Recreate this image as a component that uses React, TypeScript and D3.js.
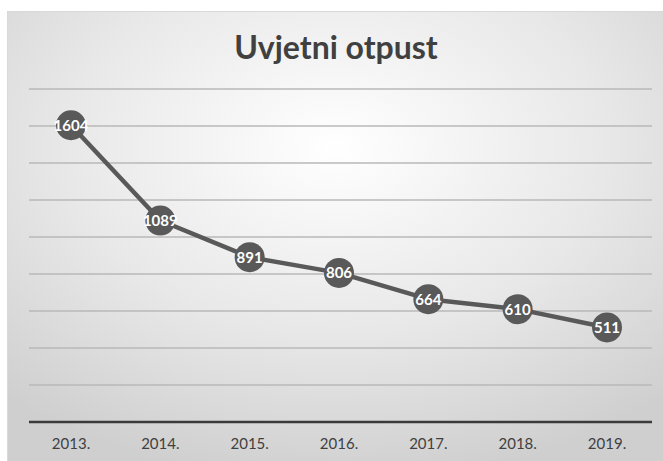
import React from "react";
import * as d3 from "d3";

const years = ["2013.", "2014.", "2015.", "2016.", "2017.", "2018.", "2019."];
const values = [1604, 1089, 891, 806, 664, 610, 511];
const yTicks = [200, 400, 600, 800, 1000, 1200, 1400, 1600, 1800];
const title = "Uvjetni otpust";

export default function App() {
  const W = 663, H = 461;
  const x = d3.scalePoint<string>().domain(years).range([71, 607]);
  const y = d3.scaleLinear().domain([0, 1800]).range([422, 89]);
  const line = d3.line<number>().x((_, i) => x(years[i])!).y((d) => y(d));
  const font = "Lato, 'Open Sans', sans-serif";
  return (
    <svg width={W} height={H} style={{ position: "absolute", left: 0, top: 0 }}>
      <defs>
        <radialGradient id="bg" cx="50%" cy="30%" r="75%">
          <stop offset="0%" stopColor="#ffffff" />
          <stop offset="55%" stopColor="#e8e8e8" />
          <stop offset="100%" stopColor="#cfcfcf" />
        </radialGradient>
      </defs>
      <rect x={0} y={0} width={W} height={H} fill="#ffffff" />
      <rect x={7.5} y={11.5} width={W - 7} height={H - 11} fill="url(#bg)" stroke="#d9d9d9" strokeWidth={1} />
      <text x={336} y={59} textAnchor="middle" fontFamily={font} fontWeight="bold" fontSize={32} fill="#404040">
        {title}
      </text>
      {yTicks.map((t) => (
        <line key={t} x1={29} x2={652} y1={y(t)} y2={y(t)} stroke="#b8b8b8" strokeWidth={1.5} />
      ))}
      <line x1={29} x2={652} y1={y(0)} y2={y(0)} stroke="#3a3a3a" strokeWidth={2.5} />
      {years.map((yr) => (
        <text key={yr} x={x(yr)} y={449} textAnchor="middle" fontFamily={font} fontSize={15} fill="#404040">
          {yr}
        </text>
      ))}
      <path d={line(values) || ""} fill="none" stroke="#595959" strokeWidth={4.5} strokeLinejoin="round" />
      {values.map((v, i) => (
        <g key={i}>
          <circle cx={x(years[i])} cy={y(v)} r={15} fill="#595959" />
          <text x={x(years[i])} y={y(v) + 5.5} textAnchor="middle" fontFamily={font} fontWeight="bold" fontSize={15} fill="#ffffff">
            {v}
          </text>
        </g>
      ))}
    </svg>
  );
}
